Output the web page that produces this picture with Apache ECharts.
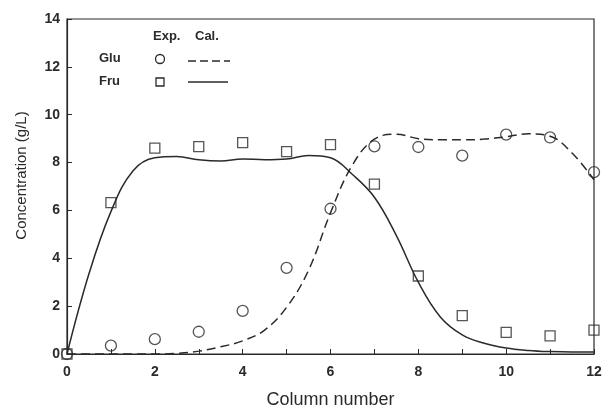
<!DOCTYPE html>
<html>
<head>
<meta charset="utf-8">
<script src="https://cdn.jsdelivr.net/npm/echarts@6/dist/echarts.min.js"></script>
<style>
  html, body { margin: 0; padding: 0; background: #fff; }
  #chart { width: 602px; height: 410px; }
</style>
</head>
<body>
<div id="chart"></div>
<script>
// measured points (Exp.)
var columns = [0, 1, 2, 3, 4, 5, 6, 7, 8, 9, 10, 11, 12];
var gluExp = [0, 0.35, 0.62, 0.93, 1.8, 3.6, 6.07, 8.68, 8.65, 8.29, 9.17, 9.05, 7.6];
var fruExp = [0, 6.33, 8.6, 8.67, 8.83, 8.46, 8.75, 7.1, 3.26, 1.6, 0.9, 0.76, 1.0];

// calculated curves (Cal.)
var curveX = [0, 0.5, 1, 1.5, 2, 2.5, 3, 3.5, 4, 4.5, 5, 5.5, 6, 6.5, 7, 7.5, 8, 8.5, 9, 9.5, 10, 10.5, 11, 11.5, 12];
var gluCal = [0, 0, 0, 0, 0, 0.03, 0.12, 0.3, 0.55, 1.0, 1.95, 3.5, 5.9, 7.9, 8.98, 9.18, 9.0, 8.95, 8.95, 8.98, 9.08, 9.2, 9.1, 8.4, 7.28];
var fruCal = [0, 3.35, 5.95, 7.65, 8.2, 8.25, 8.12, 8.07, 8.15, 8.12, 8.15, 8.3, 8.2, 7.5, 6.55, 4.95, 3.0, 1.55, 0.8, 0.45, 0.25, 0.15, 0.1, 0.08, 0.08];

var xTicks = [0, 2, 4, 6, 8, 10, 12];
var yTicks = [0, 2, 4, 6, 8, 10, 12, 14];

function pairs(xs, ys) {
  return xs.map(function (x, i) { return [x, ys[i]]; });
}

var ink = '#2a2a2a';
var font = 'Liberation Sans, Arial, sans-serif';

var chart = echarts.init(document.getElementById('chart'));
chart.setOption({
  animation: false,
  backgroundColor: '#fff',
  grid: {
    left: 67, right: 8, top: 19, bottom: 56,
    outerBoundsMode: 'none',
    show: true, borderColor: ink, borderWidth: 1.2
  },
  xAxis: {
    type: 'value',
    min: 0, max: 12, interval: 1,
    name: 'Column number',
    nameLocation: 'middle',
    nameGap: 37,
    nameTextStyle: { color: ink, fontSize: 18, fontFamily: font },
    axisLine: { show: true, lineStyle: { color: ink, width: 1.2 } },
    axisTick: { show: true, inside: true, length: 5, lineStyle: { color: ink } },
    axisLabel: {
      color: ink, fontSize: 14, fontWeight: 'bold', fontFamily: font, margin: 11,
      formatter: function (v) { return xTicks.indexOf(v) >= 0 ? String(v) : ''; }
    },
    splitLine: { show: false }
  },
  yAxis: {
    type: 'value',
    min: 0, max: 14, interval: 2,
    name: 'Concentration (g/L)',
    nameLocation: 'middle',
    nameGap: 38,
    nameTextStyle: { color: ink, fontSize: 15, fontFamily: font, padding: [0, 0, 0, 22] },
    axisLine: { show: true, lineStyle: { color: ink, width: 1.2 } },
    axisTick: { show: true, inside: true, length: 5, lineStyle: { color: ink } },
    axisLabel: {
      color: ink, fontSize: 14, fontWeight: 'bold', fontFamily: font, margin: 7,
      formatter: function (v) { return yTicks.indexOf(v) >= 0 ? String(v) : ''; }
    },
    splitLine: { show: false }
  },
  series: [
    {
      name: 'Glu Cal.', type: 'line', data: pairs(curveX, gluCal),
      smooth: 0.4, symbol: 'none',
      lineStyle: { color: ink, width: 1.5, type: [9, 5] }
    },
    {
      name: 'Fru Cal.', type: 'line', data: pairs(curveX, fruCal),
      smooth: 0.4, symbol: 'none',
      lineStyle: { color: ink, width: 1.5 }
    },
    {
      name: 'Glu Exp.', type: 'scatter', data: pairs(columns, gluExp),
      symbol: 'circle', symbolSize: 11,
      itemStyle: { color: 'rgba(0,0,0,0)', borderColor: ink, borderWidth: 1.3 }
    },
    {
      name: 'Fru Exp.', type: 'scatter', data: pairs(columns, fruExp),
      symbol: 'rect', symbolSize: 10,
      itemStyle: { color: 'rgba(0,0,0,0)', borderColor: ink, borderWidth: 1.3 }
    }
  ],
  graphic: [
    { type: 'text', left: 153, top: 30, style: { text: 'Exp.', fill: ink, font: 'bold 13px ' + font } },
    { type: 'text', left: 195, top: 30, style: { text: 'Cal.', fill: ink, font: 'bold 13px ' + font } },
    { type: 'text', left: 99, top: 52, style: { text: 'Glu', fill: ink, font: 'bold 13px ' + font } },
    { type: 'text', left: 99, top: 75, style: { text: 'Fru', fill: ink, font: 'bold 13px ' + font } },
    { type: 'circle', shape: { cx: 160, cy: 59, r: 4.5 }, style: { fill: 'none', stroke: ink, lineWidth: 1.3 } },
    { type: 'rect', shape: { x: 156, y: 78, width: 8, height: 8 }, style: { fill: 'none', stroke: ink, lineWidth: 1.3 } },
    { type: 'line', shape: { x1: 188, y1: 61, x2: 230, y2: 61 }, style: { stroke: ink, lineWidth: 1.5, lineDash: [8, 4] } },
    { type: 'line', shape: { x1: 188, y1: 82, x2: 228, y2: 82 }, style: { stroke: ink, lineWidth: 1.5 } }
  ]
});
</script>
</body>
</html>
